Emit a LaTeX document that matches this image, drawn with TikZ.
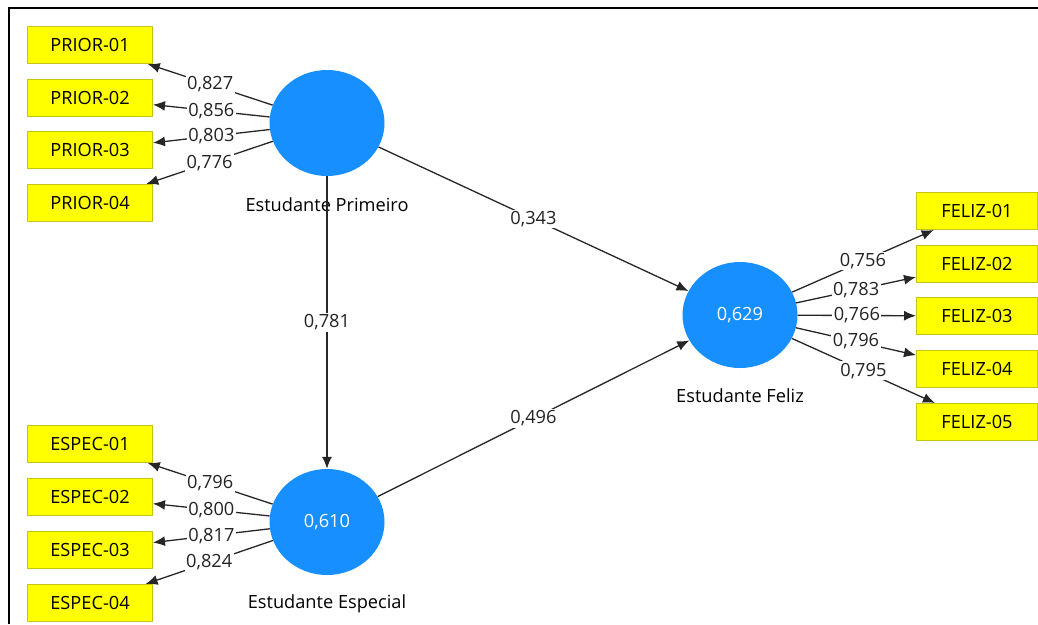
\documentclass[tikz,border=0pt]{standalone}
\usepackage{fontspec}
\setmainfont{Open Sans}
\usetikzlibrary{arrows.meta,shapes.geometric}
\definecolor{plsblue}{RGB}{24,143,255}
\definecolor{itemyellow}{RGB}{255,255,0}
\definecolor{itemedge}{RGB}{196,196,20}
\definecolor{coeftext}{RGB}{35,35,35}

\begin{document}
\begin{tikzpicture}[x=1pt, y=-1pt,
    font=\fontsize{18.2}{20}\selectfont,
    item/.style={rectangle, draw=itemedge, fill=itemyellow, line width=1pt,
        minimum width=125pt, minimum height=37pt, inner sep=0pt},
    itemr/.style={item, minimum width=121pt},
    latent/.style={ellipse, fill=plsblue, minimum width=115pt, minimum height=106pt,
        inner sep=0pt, text=white},
    load/.style={-{Latex[length=12pt,width=10pt]}, line width=1.3pt, draw=black!85},
    coef/.style={fill=white, inner sep=1.5pt, text=coeftext}]
    \useasboundingbox (0,0) rectangle (1038,624);
    \draw[line width=2.5pt] (9,624) -- (9,8) -- (1038,8);

    % indicators
    \node[item] (p1) at (90,45) {PRIOR-01};
    \node[item] (p2) at (90,98) {PRIOR-02};
    \node[item] (p3) at (90,150) {PRIOR-03};
    \node[item] (p4) at (90,203) {PRIOR-04};

    \node[item] (e1) at (90,444) {ESPEC-01};
    \node[item] (e2) at (90,497) {ESPEC-02};
    \node[item] (e3) at (90,550) {ESPEC-03};
    \node[item] (e4) at (90,603) {ESPEC-04};

    \node[itemr] (f1) at (977,211) {FELIZ-01};
    \node[itemr] (f2) at (977,264) {FELIZ-02};
    \node[itemr] (f3) at (977,316) {FELIZ-03};
    \node[itemr] (f4) at (977,369) {FELIZ-04};
    \node[itemr] (f5) at (977,422) {FELIZ-05};

    % constructs
    \node[latent] (prim) at (327,123) {};
    \node[latent] (espec) at (327,522) {0,610};
    \node[latent] (feliz) at (740,315) {0,629};

    \node (primname) at (327,205) {Estudante Primeiro};
    \node (especname) at (327,604) {Estudante Especial};
    \node (felizname) at (740,396) {Estudante Feliz};

    % outer loadings
    \draw[load] (prim) -- node[coef] {0,827} (p1);
    \draw[load] (prim) -- node[coef] {0,856} (p2);
    \draw[load] (prim) -- node[coef] {0,803} (p3);
    \draw[load] (prim) -- node[coef] {0,776} (p4);

    \draw[load] (espec) -- node[coef] {0,796} (e1);
    \draw[load] (espec) -- node[coef] {0,800} (e2);
    \draw[load] (espec) -- node[coef] {0,817} (e3);
    \draw[load] (espec) -- node[coef] {0,824} (e4);

    \draw[load] (feliz) -- node[coef] {0,756} (f1);
    \draw[load] (feliz) -- node[coef] {0,783} (f2);
    \draw[load] (feliz) -- node[coef] {0,766} (f3);
    \draw[load] (feliz) -- node[coef] {0,796} (f4);
    \draw[load] (feliz) -- node[coef] {0,795} (f5);

    % path coefficients
    \draw[load] (prim) -- node[coef] {0,343} (feliz);
    \draw[load] (prim) -- node[coef] {0,781} (espec);
    \draw[load] (espec) -- node[coef] {0,496} (feliz);
\end{tikzpicture}
\end{document}
